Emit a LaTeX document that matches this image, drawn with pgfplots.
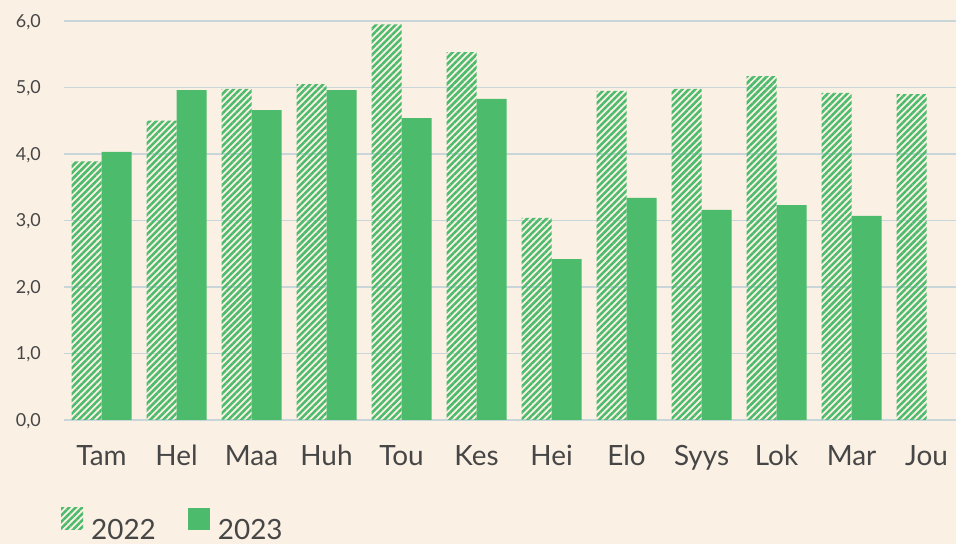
\documentclass[border=0pt]{standalone}
\usepackage{fontspec}
\setmainfont{Lato}
\usepackage{pgfplots}
\pgfplotsset{compat=1.18}
\usetikzlibrary{patterns.meta}
\definecolor{bg}{RGB}{250,240,228}
\definecolor{barg}{RGB}{76,187,108}
\definecolor{gridc}{RGB}{200,214,218}
\definecolor{txt}{RGB}{70,70,70}
\begin{document}
\begin{tikzpicture}[x=1bp,y=1bp]
\fill[bg] (0,0) rectangle (956,544);
\useasboundingbox (0,0) rectangle (956,544);
\begin{axis}[
  at={(64bp,124bp)}, anchor=south west,
  scale only axis, width=892bp, height=399bp,
  xmin=-0.5, xmax=11.393, ymin=0, ymax=6,
  axis line style={draw=none},
  ymajorgrids, grid style={gridc, line width=1.6bp},
  ytick={0,1,2,3,4,5,6}, xtick={0,...,11},
  xticklabels={Tam,Hel,Maa,Huh,Tou,Kes,Hei,Elo,Syys,Lok,Mar,Jou},
  major tick length=0pt,
  tick label style={text=txt},
  /pgf/number format/assume math mode=true,
  yticklabel style={font=\fontsize{18}{20}\selectfont, anchor=base east, inner sep=0pt, xshift=-23bp, yshift=-6.5bp,
    /pgf/number format/fixed, /pgf/number format/fixed zerofill, /pgf/number format/precision=1, /pgf/number format/use comma},
  xticklabel style={font=\fontsize{28}{30}\selectfont, anchor=base, inner sep=0pt, yshift=-46bp},
  legend columns=-1,
  legend style={draw=none, fill=none, inner sep=0pt, nodes={inner sep=0pt}, text=txt,
    font=\fontsize{28}{30}\selectfont,
    at={(axis description cs:-0.00336,-0.3033)}, anchor=south west,
    /tikz/every odd column/.append style={column sep=8bp},
    /tikz/every even column/.append style={column sep=32bp}},
]
\addplot[ybar, bar width=0.4, bar shift=-0.2, draw=none,
  pattern={Lines[angle=45,distance=4.6bp,line width=2.5bp]}, pattern color=barg,
  legend image code/.code={\path[draw=none, pattern={Lines[angle=45,distance=4.6bp,line width=2.5bp]}, pattern color=barg] (0bp,0bp) rectangle (22bp,22bp);}]
  coordinates {(0,3.89) (1,4.50) (2,4.98) (3,5.05) (4,5.95) (5,5.53) (6,3.04) (7,4.95) (8,4.98) (9,5.17) (10,4.92) (11,4.90)};
\addlegendentry{2022}
\addplot[ybar, bar width=0.4, bar shift=0.2, draw=none, fill=barg,
  legend image code/.code={\path[draw=none, fill=barg] (0bp,0bp) rectangle (22bp,22bp);}]
  coordinates {(0,4.03) (1,4.96) (2,4.66) (3,4.96) (4,4.54) (5,4.83) (6,2.42) (7,3.34) (8,3.16) (9,3.23) (10,3.07)};
\addlegendentry{2023}
\end{axis}
\end{tikzpicture}
\end{document}
